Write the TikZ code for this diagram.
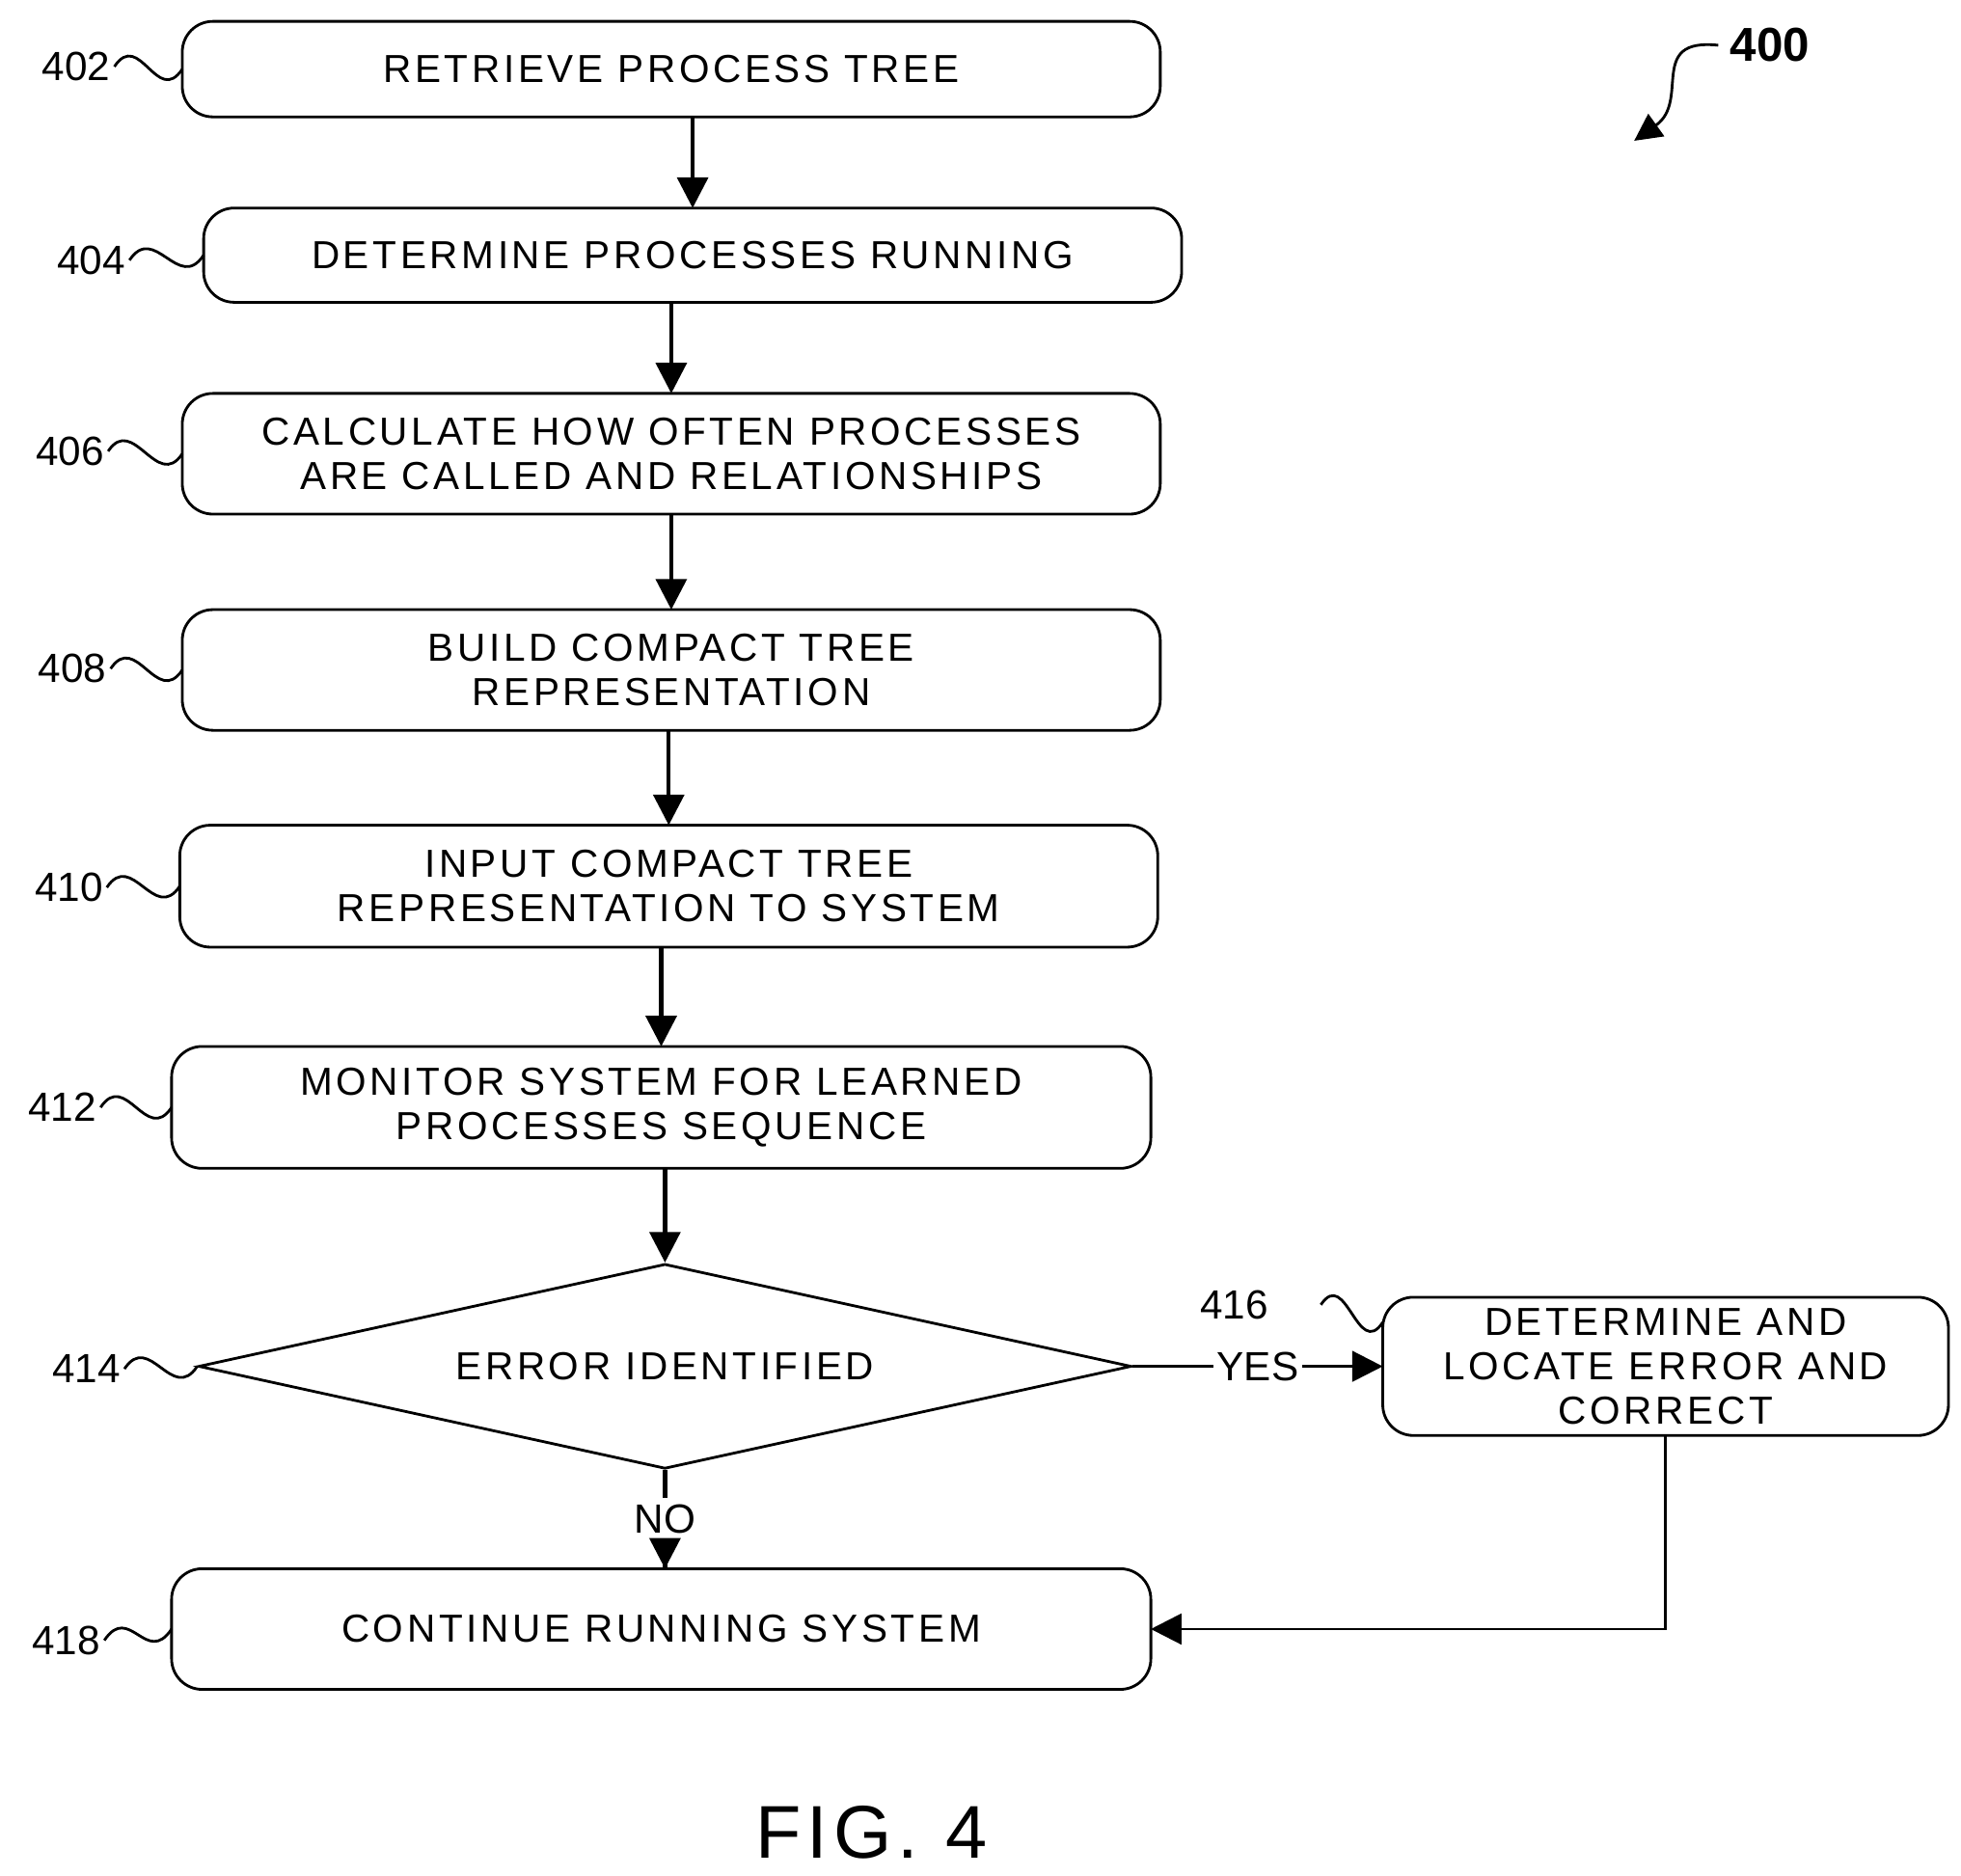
\documentclass[tikz,border=0pt]{standalone}
\usepackage{fontspec}
\setmainfont{Liberation Sans}
\usetikzlibrary{arrows.meta,shapes.geometric}

\begin{document}
\begin{tikzpicture}[x=0.013cm, y=-0.013cm,
    box/.style = {rectangle, draw, rounded corners=9pt, thick,% process steps
                  align=center, font=\fontsize{11.5}{13}\selectfont\addfontfeature{LetterSpace=9},
                  inner sep=0pt, outer sep=0pt},
    dia/.style = {diamond, draw, thick, aspect=4.55, inner sep=0pt,
                  font=\fontsize{11.5}{13}\selectfont\addfontfeature{LetterSpace=9}},
    ref/.style = {font=\fontsize{12}{14}\selectfont, inner sep=1pt},
    sq/.style  = {thick},
    arr/.style = {-{Triangle[length=9pt,width=9pt]}, very thick},
                    ]
\useasboundingbox (0,0) rectangle (1560,1492);
% boxes
\node[box, minimum width=778*0.013cm, minimum height=76*0.013cm] (B402) at (534,55)
     {RETRIEVE PROCESS TREE};
\node[box, minimum width=778*0.013cm, minimum height=75*0.013cm] (B404) at (551,203)
     {DETERMINE PROCESSES RUNNING};
\node[box, minimum width=778*0.013cm, minimum height=96*0.013cm] (B406) at (534,361)
     {CALCULATE HOW OFTEN PROCESSES\\ARE CALLED AND RELATIONSHIPS};
\node[box, minimum width=778*0.013cm, minimum height=96*0.013cm] (B408) at (534,533)
     {BUILD COMPACT TREE\\REPRESENTATION};
\node[box, minimum width=778*0.013cm, minimum height=97*0.013cm] (B410) at (532,705)
     {INPUT COMPACT TREE\\REPRESENTATION TO SYSTEM};
\node[box, minimum width=779*0.013cm, minimum height=97*0.013cm] (B412) at (526,881)
     {MONITOR SYSTEM FOR LEARNED\\PROCESSES SEQUENCE};
\node[dia, minimum width=742*0.013cm, minimum height=163*0.013cm] (B414) at (529,1087)
     {ERROR IDENTIFIED};
\node[box, minimum width=450*0.013cm, minimum height=110*0.013cm] (B416) at (1325,1087)
     {DETERMINE AND\\LOCATE ERROR AND\\CORRECT};
\node[box, minimum width=779*0.013cm, minimum height=96*0.013cm] (B418) at (526,1296)
     {CONTINUE RUNNING SYSTEM};
% flow
\foreach \a/\b in {B402/B404,B404/B406,B406/B408,B408/B410,B410/B412,B412/B414}
    \draw[arr] (\a.south -| \b.north) -- (\b.north);
\draw[very thick] (B414.south) -- node[fill=white, ref, inner sep=2pt] (no) {NO} (B414.south |- B418.north);
\draw[arr] (no) -- (B418.north -| no);
\draw[arr, thick] (B414.east) -- node[fill=white, ref, inner sep=1pt] {YES} (B416.west);
\draw[arr, thick] (B416.south) |- (B418.east);
% reference numerals
\foreach \n/\x/\y in {402/58/53,404/70/207,406/53/359,408/55/532,410/52/706,412/47/881,414/66/1089,418/50/1305}{
    \node[ref, anchor=east] (L\n) at (\x+33,\y) {\n};
    \draw[sq] (L\n.east) .. controls +(20,-30) and +(-20,30) .. (B\n.west);
}
\node[ref] (L416) at (982,1038) {416};
\coordinate (C416) at ([yshift=-0.26cm]B416.north west);
\draw[sq] ([xshift=0.5cm]L416.east) .. controls +(20,-30) and +(-20,30) .. (C416);
\node[font=\bfseries\fontsize{14}{16}\selectfont] (L400) at (1408,36) {400};
\draw[-{Triangle[length=8pt,width=8pt]}, thick] (L400.west) .. controls (1310,30) and (1345,80) .. (1300,112);
\node[font=\fontsize{22}{26}\selectfont\addfontfeature{LetterSpace=8}] (fig) at (693,1458) {FIG. 4};
\end{tikzpicture}
\end{document}
